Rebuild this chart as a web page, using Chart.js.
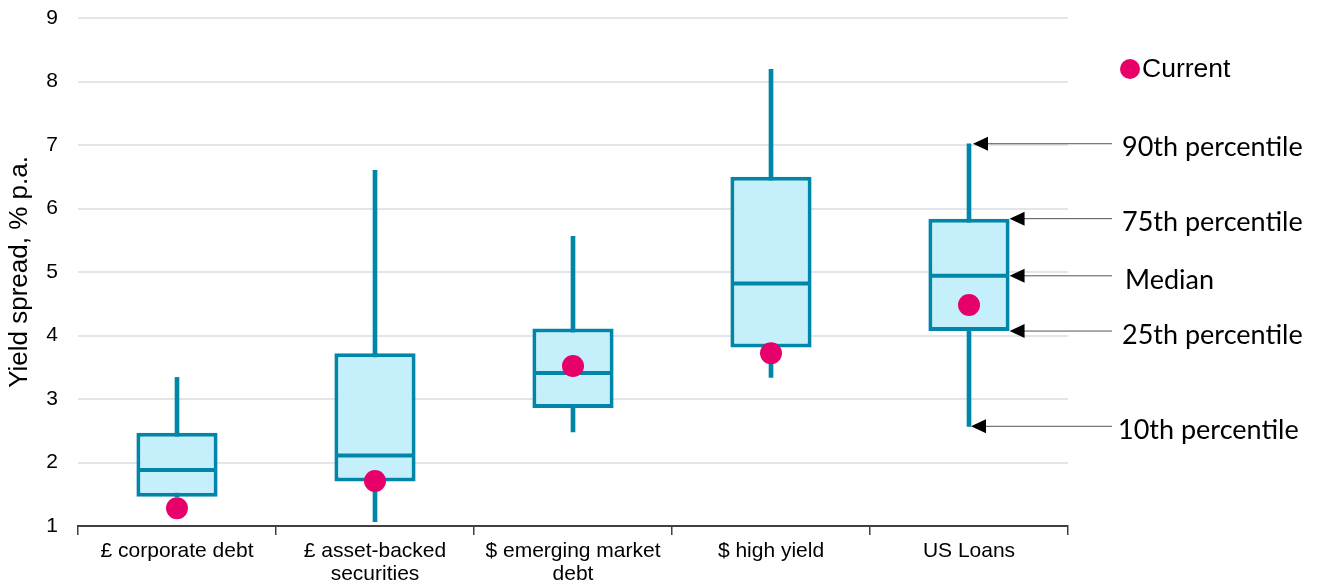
<!DOCTYPE html>
<html>
<head>
<meta charset="utf-8">
<script src="https://cdn.jsdelivr.net/npm/chart.js@4.4.1/dist/chart.umd.min.js"></script>
<style>
  html, body { margin: 0; padding: 0; background: #fff; }
  #wrap { width: 1322px; height: 585px; }
</style>
</head>
<body>
<div id="wrap"><canvas id="spreadChart"></canvas></div>
<script>
// Data
const categories = ['£ corporate debt', ['£ asset-backed', 'securities'], ['$ emerging market', 'debt'], '$ high yield', 'US Loans'];
const p10 = [1.46, 1.07, 2.48, 3.34, 2.57];
const p25 = [1.46, 1.70, 2.86, 3.81, 4.07];
const median = [1.88, 2.11, 3.41, 4.82, 4.94];
const p75 = [2.47, 3.72, 4.11, 6.50, 5.84];
const p90 = [3.34, 6.60, 5.56, 8.19, 7.02];
const current = [1.28, 1.71, 3.52, 3.72, 4.48];
const yMin = 1, yMax = 9, yStep = 1;
const annotationLabels = ['90th percentile', '75th percentile', 'Median', '25th percentile', '10th percentile'];

const TEAL = '#0086a8';
const FILL = '#c6effc';
const PINK = '#e8006a';

// legend + percentile callouts drawn on top
const extras = {
    id: 'extras',
    afterDraw(chart) {
        const ctx = chart.ctx;
        const area = chart.chartArea;
        const y = chart.scales.y;

        // legend
        ctx.save();
        ctx.fillStyle = PINK;
        ctx.beginPath();
        ctx.arc(area.right + 62, 69, 10, 0, Math.PI * 2);
        ctx.fill();
        ctx.fillStyle = '#000';
        ctx.font = '26.5px "Liberation Sans", Arial, sans-serif';
        ctx.textBaseline = 'middle';
        ctx.fillText('Current', area.right + 74, 70);

        // callouts on the last box
        const last = categories.length - 1;
        const whisker = chart.getDatasetMeta(0).data[last];
        const box = chart.getDatasetMeta(1).data[last];
        const boxRight = box.x + box.width / 2;
        const targets = [
            [p90[last], whisker.x + 4],
            [p75[last], boxRight],
            [median[last], boxRight],
            [p25[last], boxRight],
            [p10[last], whisker.x + 2]
        ];
        const tailX = area.right + 44;
        ctx.font = '27px Lato, "Open Sans", sans-serif';
        targets.forEach(([v, tipX], i) => {
            const py = y.getPixelForValue(v);
            ctx.strokeStyle = '#555';
            ctx.lineWidth = 1;
            ctx.beginPath();
            ctx.moveTo(tailX, py);
            ctx.lineTo(tipX + 12, py);
            ctx.stroke();
            ctx.fillStyle = '#000';
            ctx.beginPath();
            ctx.moveTo(tipX, py);
            ctx.lineTo(tipX + 15, py - 7);
            ctx.lineTo(tipX + 15, py + 7);
            ctx.closePath();
            ctx.fill();
            ctx.fillText(annotationLabels[i], area.right + (i === 4 ? 50 : (i === 2 ? 57 : 54)), py + 4);
        });
        ctx.restore();
    }
};

const ctx = document.getElementById('spreadChart').getContext('2d');
new Chart(ctx, {
    type: 'bar',
    data: {
        labels: categories,
        datasets: [
            {
                label: 'Range',
                data: p10.map((v, i) => [v, p90[i]]),
                backgroundColor: TEAL,
                barThickness: 4,
                grouped: false,
                order: 3
            },
            {
                label: 'Box',
                data: p25.map((v, i) => [v, p75[i]]),
                backgroundColor: FILL,
                borderColor: TEAL,
                borderWidth: 4,
                borderSkipped: false,
                barPercentage: 0.41,
                categoryPercentage: 1,
                grouped: false,
                order: 2
            },
            {
                type: 'line',
                label: 'Median',
                data: median,
                showLine: false,
                pointStyle: 'line',
                pointRadius: 38,
                pointHoverRadius: 38,
                borderColor: TEAL,
                pointBorderColor: TEAL,
                borderWidth: 4,
                pointBorderWidth: 4,
                order: 1
            },
            {
                type: 'line',
                label: 'Current',
                data: current,
                showLine: false,
                pointStyle: 'circle',
                pointRadius: 11,
                pointHoverRadius: 11,
                pointBackgroundColor: PINK,
                pointBorderWidth: 0,
                order: 0
            }
        ]
    },
    options: {
        responsive: true,
        maintainAspectRatio: false,
        animation: false,
        layout: { autoPadding: false, padding: { top: 18, right: 254, bottom: 0, left: 0 } },
        plugins: {
            legend: { display: false },
            tooltip: { enabled: false }
        },
        scales: {
            x: {
                offset: true,
                afterFit(scale) { scale.height = 59; },
                grid: { display: true, drawOnChartArea: false, drawTicks: true, tickLength: 9, color: '#404040', lineWidth: 1.5 },
                border: { display: true, color: '#404040', width: 2 },
                ticks: {
                    color: '#000',
                    font: { family: '"Liberation Sans", Arial, sans-serif', size: 21, lineHeight: 1.1 },
                    maxRotation: 0,
                    autoSkip: false,
                    padding: 5
                }
            },
            y: {
                min: yMin,
                max: yMax,
                afterFit(scale) {
                    scale.width = 78;
                    scale.paddingTop = 0;
                    scale.paddingBottom = 0;
                },
                grid: { color: '#e2e6ea', lineWidth: 2, drawTicks: false },
                border: { display: false },
                ticks: {
                    stepSize: yStep,
                    color: '#000',
                    padding: 20,
                    font: { family: '"Liberation Sans", Arial, sans-serif', size: 21 }
                },
                title: {
                    display: true,
                    text: 'Yield spread, % p.a.',
                    color: '#000',
                    padding: { top: 4, bottom: 0 },
                    font: { family: '"Liberation Sans", Arial, sans-serif', size: 26 }
                }
            }
        }
    },
    plugins: [extras]
});
</script>
</body>
</html>
